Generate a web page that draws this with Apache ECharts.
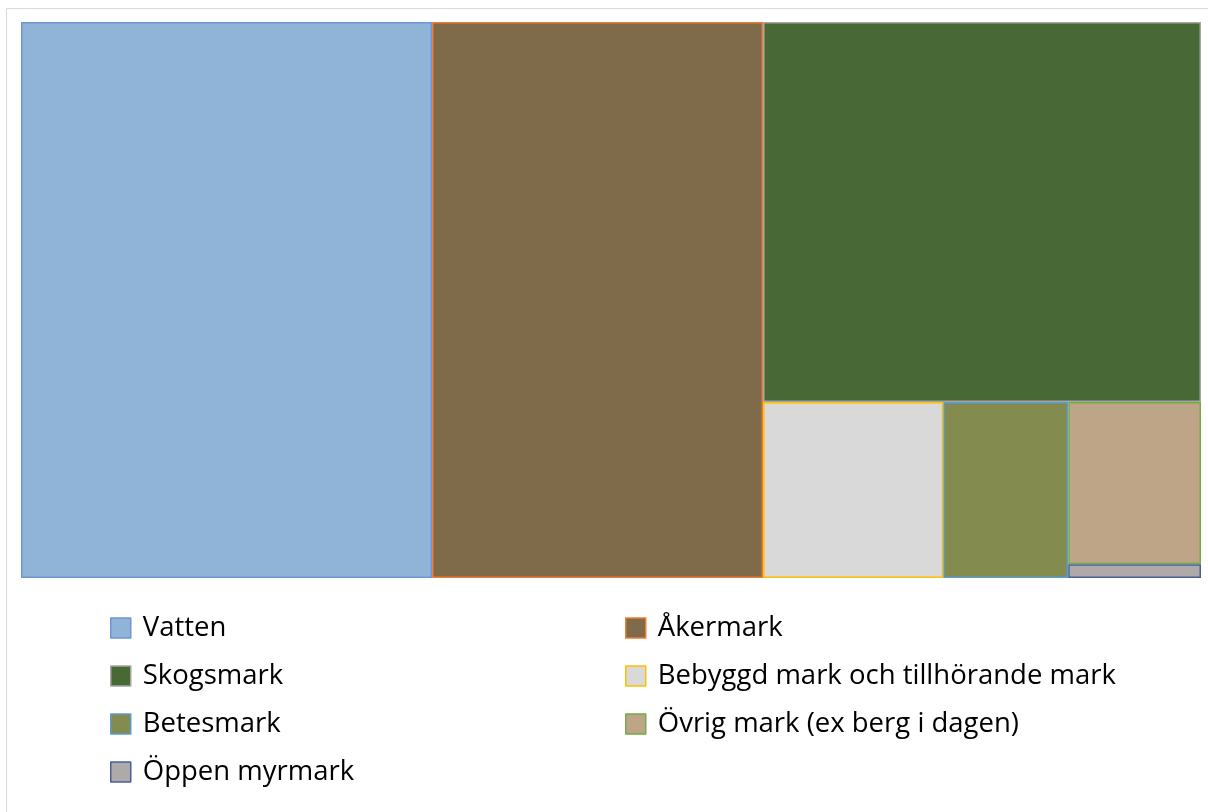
<!DOCTYPE html>
<html>
<head>
<meta charset="utf-8">
<script src="https://cdn.jsdelivr.net/npm/echarts@6/dist/echarts.min.js"></script>
<style>html,body{margin:0;padding:0;background:#fff;}#c{width:1208px;height:812px;}</style>
</head>
<body>
<div id="c"></div>
<script>
// Land use categories and their shares (percent, read from tile areas)
const categories = ['Vatten', 'Åkermark', 'Skogsmark', 'Bebyggd mark och tillhörande mark', 'Betesmark', 'Övrig mark (ex berg i dagen)', 'Öppen myrmark'];
const values = [34.83, 28.05, 25.37, 4.83, 3.35, 3.28, 0.28];
const fillColors = ['#8FB4D8', '#7F6A49', '#486835', '#D9D9D9', '#838B4E', '#BEA588', '#AEAAAA'];
const borderColors = ['#6F96D2', '#ED7D31', '#A5A5A5', '#FFC000', '#5B9BD5', '#70AD47', '#4A5F95'];
const legendLeft = ['Vatten', 'Skogsmark', 'Betesmark', 'Öppen myrmark'];
const legendRight = ['Åkermark', 'Bebyggd mark och tillhörande mark', 'Övrig mark (ex berg i dagen)'];

const items = categories.map((n, i) => ({
  name: n,
  value: values[i],
  itemStyle: { color: fillColors[i], borderColor: borderColors[i], borderWidth: 1.5 }
}));

const legendData = names => names.map(n => {
  const i = categories.indexOf(n);
  return { name: n, itemStyle: { color: fillColors[i], borderColor: borderColors[i], borderWidth: 1.5 } };
});

const legendCommon = {
  orient: 'vertical',
  top: 608,
  itemWidth: 20,
  itemHeight: 20,
  itemGap: 18,
  icon: 'rect',
  selectedMode: false,
  textStyle: { fontFamily: 'Open Sans', fontSize: 27.5, color: '#000', lineHeight: 30, padding: [0, 0, 0, 7] }
};

const chart = echarts.init(document.getElementById('c'));
chart.setOption({
  animation: false,
  graphic: [{
    type: 'rect', shape: { x: 6.5, y: 8.5, width: 1300, height: 900 },
    style: { fill: 'none', stroke: '#D9D9D9', lineWidth: 1 }, silent: true
  }],
  legend: [
    Object.assign({ left: 105, data: legendData(legendLeft) }, legendCommon),
    Object.assign({ left: 620, data: legendData(legendRight) }, legendCommon)
  ],
  series: [
    {
      type: 'treemap',
      left: 21, top: 22, width: 1180, height: 556,
      squareRatio: 1,
      roam: false,
      nodeClick: false,
      breadcrumb: { show: false },
      label: { show: false },
      upperLabel: { show: false },
      itemStyle: { borderWidth: 0, gapWidth: 0 },
      levels: [{ itemStyle: { borderWidth: 0, gapWidth: 0 } }],
      silent: true,
      data: items
    },
    {
      // invisible helper providing legend entries
      type: 'pie',
      radius: [0, 0],
      center: [-50, -50],
      silent: true,
      label: { show: false },
      labelLine: { show: false },
      data: categories.map((n, i) => ({ name: n, value: values[i], itemStyle: { color: fillColors[i], borderColor: borderColors[i] } }))
    }
  ]
});
</script>
</body>
</html>
